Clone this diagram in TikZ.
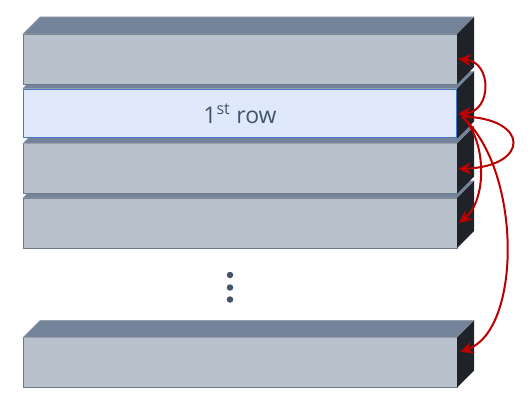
\documentclass[tikz,border=0pt]{standalone}
\usepackage{fontspec}
\newfontfamily\lblfont{Open Sans}
\usetikzlibrary{arrows.meta}
\definecolor{frontgrey}{HTML}{B9C1CD}
\definecolor{topslate}{HTML}{738399}
\definecolor{sidedark}{HTML}{1F2329}
\definecolor{edgegrey}{HTML}{6E7988}
\definecolor{hlfill}{HTML}{DFE9FB}
\definecolor{hlblue}{HTML}{4A78C6}
\definecolor{txtgrey}{HTML}{44546A}
\definecolor{arrred}{HTML}{BC0000}
\tikzset{
  front/.style={draw=edgegrey, line width=0.8pt, fill=frontgrey, minimum width=434pt, minimum height=50pt, inner sep=0pt, outer sep=0pt},
  hlfront/.style={draw=hlblue, line width=1.8pt, fill=hlfill, minimum width=433pt, minimum height=48pt, inner sep=0pt, outer sep=0pt},
  topface/.style={fill=topslate, draw=edgegrey!70!white, line width=0.6pt},
  sideface/.style={fill=sidedark},
  link/.style={draw=arrred, line width=2pt},
  tip/.style={-{Stealth[length=13pt,width=12pt]}},
  dot/.style={circle, fill=txtgrey, minimum size=6.5pt, inner sep=0pt}
}
\newcommand\boxfaces[1]{%
  \fill[topface] (#1.north west) -- ++(17,-17) -- ++(434,0) -- (#1.north east) -- cycle;
  \fill[sideface] (#1.north east) -- ++(17,-17) -- ++(0,50) -- (#1.south east) -- cycle;
}
\begin{document}
\begin{tikzpicture}[x=1pt,y=-1pt]
\useasboundingbox (0,0) rectangle (532,403);
% bottom box
\node[front] (r5) at (240,362.5) {};
\boxfaces{r5}
\node[front] (r4) at (240,223) {};
\boxfaces{r4}
\node[front] (r3) at (240,168.5) {};
\boxfaces{r3}
\node[front, draw=none, fill=none] (r2) at (240,113.5) {};
\boxfaces{r2}
\node[hlfront, font=\lblfont\fontsize{23}{26}\selectfont, text=txtgrey] (r2f) at (240,113.5) {1\textsuperscript{st} row};
\node[front] (r1) at (240,59) {};
\boxfaces{r1}
% dots
\node[dot] (d1) at (230,275) {};
\node[dot] (d2) at (230,287.5) {};
\node[dot] (d3) at (230,299.5) {};
% arrow end points on side faces
\coordinate (p1) at (458,59);
\coordinate (p2) at (458,114);
\coordinate (q2) at (462,116.5);
\coordinate (p3) at (458,169);
\coordinate (p4) at (459,223);
\coordinate (p5) at (460,352);
\draw[link, {Stealth[length=13pt,width=12pt]}-{Stealth[length=13pt,width=12pt]}] (p1) .. controls (492,62) and (492,111) .. (p2);
\draw[link, tip] (q2) .. controls (530,118) and (530,166) .. (p3);
\draw[link, tip] (q2) .. controls (487,140) and (487,200) .. (p4);
\draw[link, tip] (q2) .. controls (522,170) and (522,330) .. (p5);
\end{tikzpicture}
\end{document}
